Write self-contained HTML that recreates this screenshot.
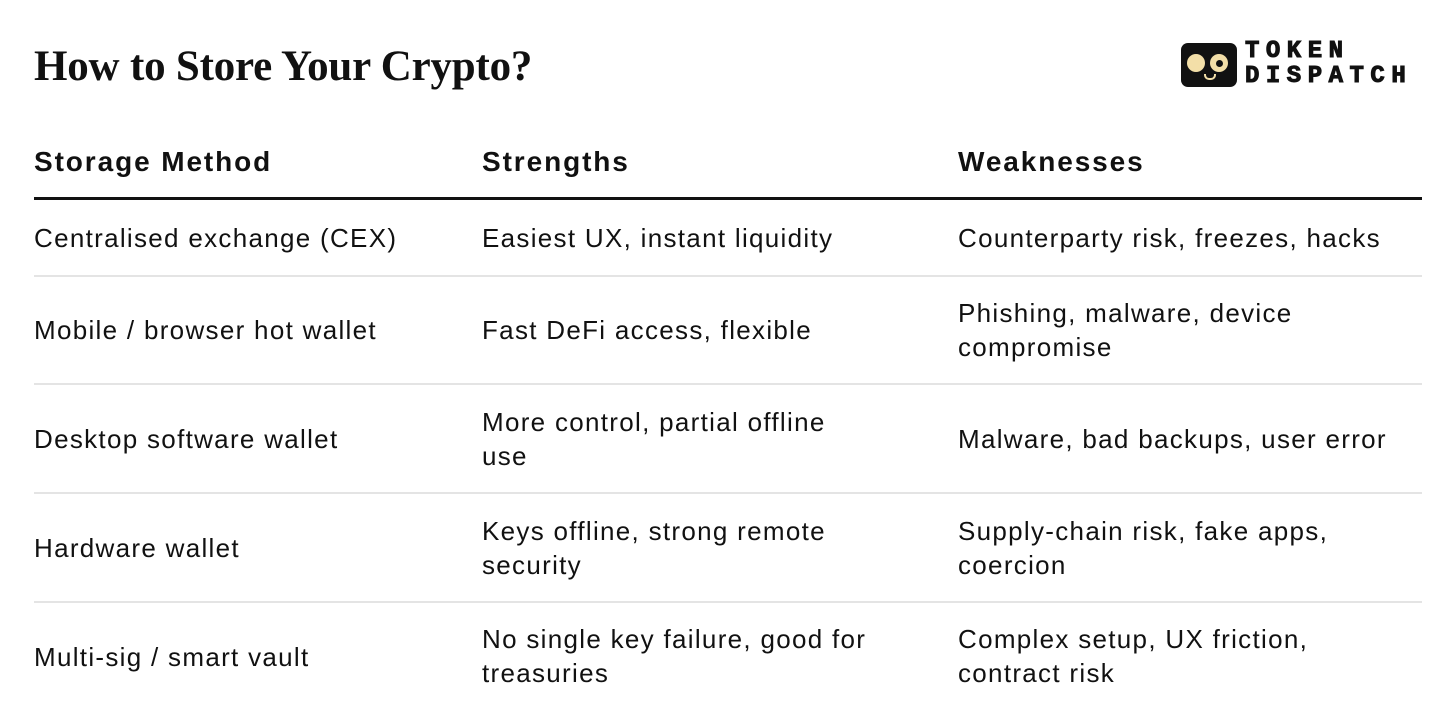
<!DOCTYPE html>
<html><head><style>
body{margin:0;width:1456px;height:727px;background:#fff;position:relative;font-family:"Liberation Sans",sans-serif;color:#111;overflow:hidden}
.t{position:absolute;left:34px;top:42px;font-family:"Liberation Serif",serif;font-weight:bold;font-size:43px;letter-spacing:-0.2px}
.h{position:absolute;top:146px;font-weight:bold;font-size:28px;letter-spacing:1.9px}
.c{position:absolute;font-size:26px;line-height:34px;letter-spacing:1.3px}
.line{position:absolute;left:34px;width:1388px;background:#e4e4e4;height:2px}
.logo{position:absolute;left:1181px;top:43px;width:56px;height:44px;background:#111;border-radius:7px}
.e{position:absolute;top:11px;width:18px;height:18px;border-radius:50%;background:#f3dfa8}
.lt{position:absolute;left:1245px;font-family:"Liberation Mono",monospace;font-weight:bold;font-size:24px;letter-spacing:6.5px;line-height:20px;-webkit-text-stroke:1px #111}
</style></head><body>
<div class="t">How to Store Your Crypto?</div>
<div class="logo"><div class="e" style="left:6px"></div><div class="e" style="left:29px"><div style="position:absolute;left:6px;top:6px;width:7px;height:7px;border-radius:50%;background:#111"></div></div><div style="position:absolute;left:23px;top:31px;width:8px;height:4px;border:2px solid #f3dfa8;border-top:none;border-radius:0 0 5px 5px"></div></div>
<div class="lt" style="top:42px">TOKEN</div>
<div class="lt" style="top:67px">DISPATCH</div>
<div class="h" style="left:34px">Storage Method</div>
<div class="h" style="left:482px">Strengths</div>
<div class="h" style="left:958px">Weaknesses</div>
<div style="position:absolute;left:34px;top:197px;width:1388px;height:3px;background:#111"></div>
<div class="line" style="top:275px"></div>
<div class="line" style="top:383px"></div>
<div class="line" style="top:492px"></div>
<div class="line" style="top:601px"></div>

<div class="c" style="left:34px;top:221px">Centralised exchange (CEX)</div>
<div class="c" style="left:482px;top:221px">Easiest UX, instant liquidity</div>
<div class="c" style="left:958px;top:221px">Counterparty risk, freezes, hacks</div>

<div class="c" style="left:34px;top:313px">Mobile / browser hot wallet</div>
<div class="c" style="left:482px;top:313px">Fast DeFi access, flexible</div>
<div class="c" style="left:958px;top:296px">Phishing, malware, device<br>compromise</div>

<div class="c" style="left:34px;top:422px">Desktop software wallet</div>
<div class="c" style="left:482px;top:405px">More control, partial offline<br>use</div>
<div class="c" style="left:958px;top:422px">Malware, bad backups, user error</div>

<div class="c" style="left:34px;top:531px">Hardware wallet</div>
<div class="c" style="left:482px;top:514px">Keys offline, strong remote<br>security</div>
<div class="c" style="left:958px;top:514px">Supply-chain risk, fake apps,<br>coercion</div>

<div class="c" style="left:34px;top:640px">Multi-sig / smart vault</div>
<div class="c" style="left:482px;top:622px">No single key failure, good for<br>treasuries</div>
<div class="c" style="left:958px;top:622px">Complex setup, UX friction,<br>contract risk</div>
</body></html>
